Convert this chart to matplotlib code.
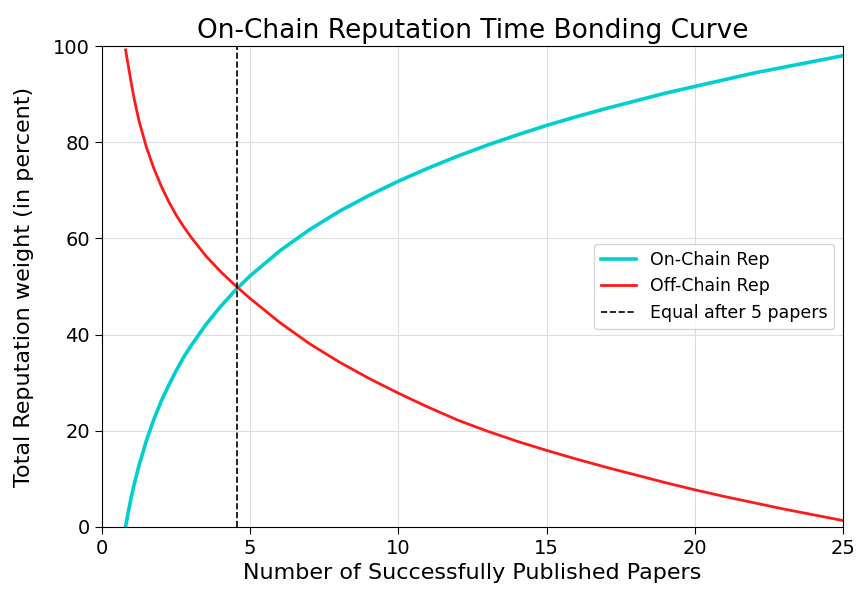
import matplotlib
matplotlib.use("Agg")
import matplotlib.pyplot as plt

# papers published vs. share of reputation weight (percent)
papers = [0.8, 0.9, 1.0, 1.1, 1.25, 1.5, 1.75, 2.0, 2.25, 2.5, 2.75, 3.0, 3.5, 4.0, 4.5, 5.0,
          6, 7, 8, 9, 10, 11, 12, 13, 14, 15, 16, 17, 18, 19, 20, 21, 22, 23, 24, 25]
on_chain = [0.0, 3.4, 6.4, 9.1, 12.7, 17.9, 22.3, 26.1, 29.4, 32.4, 35.2, 37.6, 42.0, 45.8, 49.2,
            52.2, 57.4, 61.8, 65.6, 68.9, 71.9, 74.6, 77.1, 79.4, 81.5, 83.5, 85.3, 87.0, 88.6,
            90.2, 91.6, 93.0, 94.4, 95.6, 96.8, 98.0]
off_chain = [99.2, 95.6, 92.0, 88.7, 84.5, 79.0, 74.6, 70.9, 67.7, 64.9, 62.5, 60.3, 56.4, 53.1,
             50.2, 47.5, 42.5, 38.1, 34.3, 30.9, 27.8, 24.9, 22.2, 19.9, 17.8, 15.9, 14.1, 12.4,
             10.8, 9.2, 7.7, 6.3, 5.0, 3.7, 2.5, 1.3]
equal_point = 4.55

fig = plt.figure(figsize=(8.56, 5.98), dpi=100)
ax = fig.add_axes([0.119, 0.119, 0.866, 0.804])

ax.plot(papers, on_chain, color="#00cfd1", lw=2.6, label="On-Chain Rep")
ax.plot(papers, off_chain, color="#ff1a1a", lw=2.0, label="Off-Chain Rep")
ax.axvline(equal_point, color="black", ls="--", lw=1.2, label="Equal after 5 papers")

ax.set_xlim(0, 25)
ax.set_ylim(0, 100)
ax.set_xticks([0, 5, 10, 15, 20, 25])
ax.set_yticks([0, 20, 40, 60, 80, 100])
ax.grid(True, color="#dddddd", lw=0.8)
ax.tick_params(labelsize=14, length=5)

ax.set_title("On-Chain Reputation Time Bonding Curve", fontsize=19)
ax.set_xlabel("Number of Successfully Published Papers", fontsize=16)
ax.set_ylabel("Total Reputation weight (in percent)", fontsize=16, labelpad=14)
ax.legend(loc="center right", fontsize=12.5)

fig.savefig("out.png", dpi=100)
